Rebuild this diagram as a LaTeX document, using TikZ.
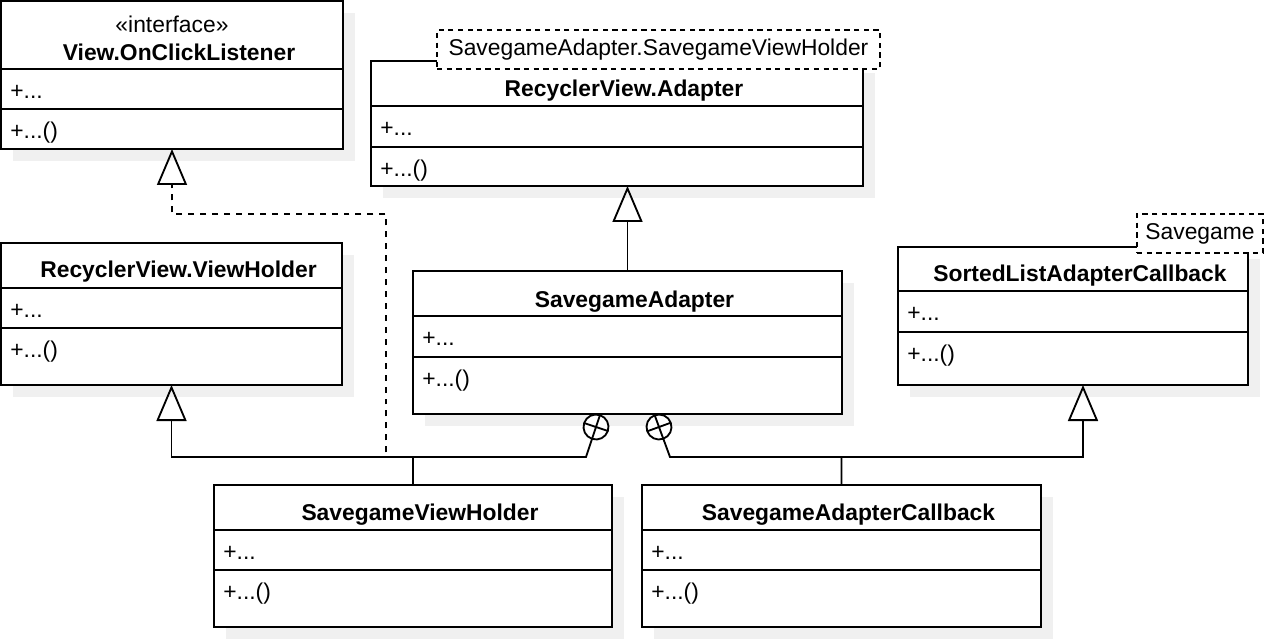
\documentclass[tikz,border=0pt]{standalone}
\usepackage{fontspec}
\setmainfont{Liberation Sans}
\usetikzlibrary{arrows.meta}
\usetikzlibrary{positioning}
\tikzset{classbox/.style = {draw, fill=white, line width=1.05pt, inner sep=0, outer sep=0, anchor=north west}}
\tikzset{tmplbox/.style = {draw, fill=white, line width=0.9pt, dash pattern=on 3pt off 2.5pt,
                           inner sep=0, outer sep=0, anchor=north west, txt}}
\tikzset{txt/.style = {font=\fontsize{13}{16}\selectfont}}
\tikzset{ttl/.style = {font=\fontsize{13}{16}\selectfont\bfseries}}
\tikzset{inherit/.style = {line width=1.05pt, -{Triangle[open, length=0.72cm, width=0.6cm]}}}
\tikzset{realize/.style = {inherit, dash pattern=on 3.4pt off 3.4pt}}
\tikzset{nestc/.style = {draw, fill=white, circle, line width=1.05pt, inner sep=0, outer sep=0, minimum size=0.5cm}}
\definecolor{shgrey}{RGB}{240, 240, 240}

\begin{document}
\begin{tikzpicture}[x=0.02cm, y=-0.02cm]
    \useasboundingbox (0, 0) rectangle (1276, 640);

    % classes: name/left/top/right/bottom/header line/attribute line/title baseline/title
    \foreach \nm/\l/\t/\r/\b/\h/\a/\tb/\ttl in {
        ocl/1/1/343/149/69/109/60/View.OnClickListener,
        rva/371/61/863/186/106/147/96/RecyclerView.Adapter,
        rvvh/1/243/342/385/288/328/277/RecyclerView.ViewHolder,
        sa/413/271/842/414/316/357/307/SavegameAdapter,
        slac/898/247/1248/385/291/332/281/SortedListAdapterCallback,
        svh/214/485/612/627/530/570/520/SavegameViewHolder,
        sac/642/485/1041/627/530/570/520/SavegameAdapterCallback} {
      \fill [shgrey] (\l + 12, \t + 12) rectangle (\r + 12, \b + 12);
      \node [classbox, minimum width=(\r - \l)*0.02cm, minimum height=(\b - \t)*0.02cm] (\nm) at (\l, \t) {};
      \draw [line width=1.05pt] (\l, \h) -- (\r, \h) (\l, \a) -- (\r, \a);
      \node [ttl, anchor=base] (\nm-name) at ({(\l + \r)/2 + 7}, \tb) {\ttl};
      \node [txt, anchor=base west, inner sep=0] (\nm-attr) at (\l + 9, \h + 29) {+...};
      \node [txt, anchor=base west, inner sep=0] (\nm-op) at (\l + 9, \a + 29) {+...()};
    }
    \node [txt, anchor=base] (ocl-stereo) at (172, 32) {«interface»};

    % template parameters
    \node [tmplbox, minimum width=8.86cm, minimum height=0.78cm] (rva-tmpl) at (437, 30) {SavegameAdapter.SavegameViewHolder};
    \node [tmplbox, minimum width=2.52cm, minimum height=0.78cm] (slac-tmpl) at (1137, 214) {Savegame};

    % nesting circles
    \node [nestc, rotate=-18.4] (n1) at (596, 427) {};
    \node [nestc, rotate=20] (n2) at (659, 427) {};
    \foreach \c in {n1, n2}
      \draw [line width=1.05pt] (\c.north) -- (\c.south) (\c.east) -- (\c.west);

    \coordinate (lowbus) at (0, 457);
    \coordinate (dbend) at (386, 214);
    \coordinate (n1foot) at (586, 457);
    \coordinate (n2foot) at (670, 457);
    \coordinate (slacfoot) at (1083, 457);

    \draw [inherit] (svh.north) |- (rvvh.south |- lowbus) -- (rvvh.south);
    \draw [realize] (svh.north) |- (dbend |- lowbus) -- (dbend) -| (ocl.south);
    \draw [line width=1.05pt] (svh.north) |- (n1foot) -- (n1);
    \draw [line width=1.05pt] (sac.north) |- (n2foot) -- (n2);
    \draw [inherit] (sac.north) |- (slacfoot) -- (slacfoot |- slac.south);
    \draw [inherit] (sa.north) -- (sa.north |- rva.south);
\end{tikzpicture}
\end{document}
